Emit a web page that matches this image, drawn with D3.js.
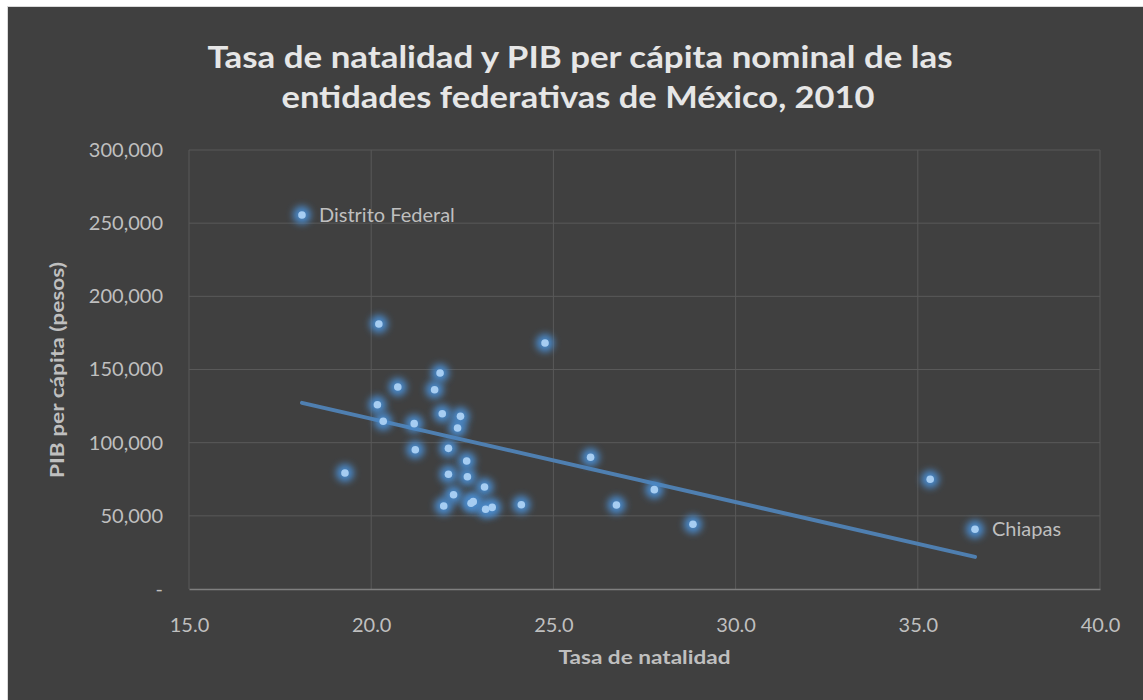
<!DOCTYPE html>
<html>
<head>
<meta charset="utf-8">
<script src="https://cdn.jsdelivr.net/npm/d3@7"></script>
<style>
  body { margin: 0; background: #ffffff; }
  text { font-family: Lato, "Open Sans", sans-serif; }
</style>
</head>
<body>
<div id="chart"></div>
<script>
// data
var tasa = [18.1, 20.21, 24.77, 21.89, 20.73, 21.74, 20.17, 20.33, 21.18, 21.95, 22.45,
  22.37, 21.21, 22.12, 22.62, 19.28, 22.12, 22.64, 23.11, 22.26, 21.99, 22.74, 22.80,
  23.14, 23.32, 24.12, 26.02, 26.73, 27.77, 28.83, 35.34, 36.57];
var pib = [255600, 181100, 168100, 147600, 138000, 136200, 125900, 114600, 113000, 119800, 118000,
  110000, 95200, 96100, 87500, 79300, 78400, 76700, 69700, 64400, 56700, 58600, 59700,
  54500, 55800, 57600, 90000, 57400, 67900, 44200, 75000, 40800];
var etiquetas = { 0: "Distrito Federal", 31: "Chiapas" };
var xTicks = [15, 20, 25, 30, 35, 40];
var yTicks = [0, 50000, 100000, 150000, 200000, 250000, 300000];

var W = 1143, H = 700;
var margin = { top: 150, right: 43, bottom: 111, left: 189 },
  width = W - margin.left - margin.right,
  height = H - margin.top - margin.bottom;

var svg = d3.select("#chart")
  .append("svg")
  .attr("width", W)
  .attr("height", H);

var defs = svg.append("defs");
defs.append("filter")
  .attr("id", "glow")
  .attr("x", "-100%").attr("y", "-100%")
  .attr("width", "300%").attr("height", "300%")
  .append("feGaussianBlur")
  .attr("stdDeviation", 3.5);

// background + frame
svg.append("rect").attr("x", 0).attr("y", 0).attr("width", W).attr("height", H).attr("fill", "#ffffff");
svg.append("rect").attr("x", 7).attr("y", 6).attr("width", W - 7).attr("height", H - 6).attr("fill", "#d9d9d9");
svg.append("rect").attr("x", 8).attr("y", 7).attr("width", W - 8).attr("height", H - 7).attr("fill", "#404040");

// title
var title = svg.append("text")
  .attr("text-anchor", "middle")
  .attr("fill", "#e6e6e6")
  .style("font-size", "31px")
  .style("font-weight", "bold");
title.append("tspan").attr("x", 580).attr("y", 68)
  .attr("textLength", 745).attr("lengthAdjust", "spacingAndGlyphs")
  .text("Tasa de natalidad y PIB per cápita nominal de las");
title.append("tspan").attr("x", 578).attr("y", 108)
  .attr("textLength", 593).attr("lengthAdjust", "spacingAndGlyphs")
  .text("entidades federativas de México, 2010");

var g = svg.append("g")
  .attr("transform", "translate(" + margin.left + "," + margin.top + ")");

var x = d3.scaleLinear().domain([15, 40]).range([0, width]);
var y = d3.scaleLinear().domain([0, 300000]).range([height, 0]);

// grid
g.selectAll(".vgrid")
  .data(xTicks)
  .enter().append("line")
  .attr("x1", function (d) { return x(d); })
  .attr("x2", function (d) { return x(d); })
  .attr("y1", 0).attr("y2", height)
  .attr("stroke", "#595959").attr("stroke-width", 1);
g.selectAll(".hgrid")
  .data(yTicks.slice(1))
  .enter().append("line")
  .attr("x1", 0).attr("x2", width)
  .attr("y1", function (d) { return y(d); })
  .attr("y2", function (d) { return y(d); })
  .attr("stroke", "#595959").attr("stroke-width", 1);

// X axis
var xAxis = g.append("g")
  .attr("transform", "translate(0," + height + ")")
  .call(d3.axisBottom(x).tickValues(xTicks).tickFormat(d3.format(".1f")).tickSize(0).tickPadding(29));
xAxis.select(".domain").attr("stroke", "#7f7f7f").attr("stroke-width", 1.5);
xAxis.selectAll("text").attr("fill", "#bfbfbf").style("font-size", "20px");

// Y axis
var yAxis = g.append("g")
  .call(d3.axisLeft(y).tickValues(yTicks)
    .tickFormat(function (d) { return d === 0 ? "-" : d3.format(",")(d); })
    .tickSize(0).tickPadding(26));
yAxis.select(".domain").remove();
yAxis.selectAll("text").attr("fill", "#bfbfbf").style("font-size", "20px");

// axis titles
svg.append("text")
  .attr("x", margin.left + width / 2).attr("y", 664)
  .attr("text-anchor", "middle")
  .attr("fill", "#bfbfbf")
  .attr("textLength", 172).attr("lengthAdjust", "spacingAndGlyphs")
  .style("font-size", "19px").style("font-weight", "bold")
  .text("Tasa de natalidad");
svg.append("text")
  .attr("transform", "translate(64," + (margin.top + 220) + ") rotate(-90)")
  .attr("text-anchor", "middle")
  .attr("fill", "#bfbfbf")
  .attr("textLength", 216).attr("lengthAdjust", "spacingAndGlyphs")
  .style("font-size", "19px").style("font-weight", "bold")
  .text("PIB per cápita (pesos)");

// trend line (least squares)
var mx = d3.mean(tasa), my = d3.mean(pib);
var sxy = d3.sum(tasa, function (d, i) { return (d - mx) * (pib[i] - my); });
var sxx = d3.sum(tasa, function (d) { return (d - mx) * (d - mx); });
var slope = sxy / sxx, inter = my - slope * mx;
var x0 = d3.min(tasa), x1 = d3.max(tasa);
g.append("line")
  .attr("x1", x(x0)).attr("y1", y(inter + slope * x0))
  .attr("x2", x(x1)).attr("y2", y(inter + slope * x1))
  .attr("stroke", "#4f7fb0").attr("stroke-width", 4).attr("stroke-linecap", "round");

// points
var pts = tasa.map(function (d, i) { return { t: d, p: pib[i], i: i }; });
g.selectAll(".halo")
  .data(pts)
  .enter().append("circle")
  .attr("cx", function (d) { return x(d.t); })
  .attr("cy", function (d) { return y(d.p); })
  .attr("r", 9)
  .attr("fill", "#4a88c8")
  .attr("filter", "url(#glow)");
g.selectAll(".dot")
  .data(pts)
  .enter().append("circle")
  .attr("cx", function (d) { return x(d.t); })
  .attr("cy", function (d) { return y(d.p); })
  .attr("r", 3.8)
  .attr("fill", "#a6cdf2");

// labels
g.selectAll(".lbl")
  .data(pts.filter(function (d) { return etiquetas[d.i]; }))
  .enter().append("text")
  .attr("x", function (d) { return x(d.t) + 17; })
  .attr("y", function (d) { return y(d.p) + 7; })
  .attr("fill", "#bfbfbf")
  .style("font-size", "20px")
  .text(function (d) { return etiquetas[d.i]; });
</script>
</body>
</html>
